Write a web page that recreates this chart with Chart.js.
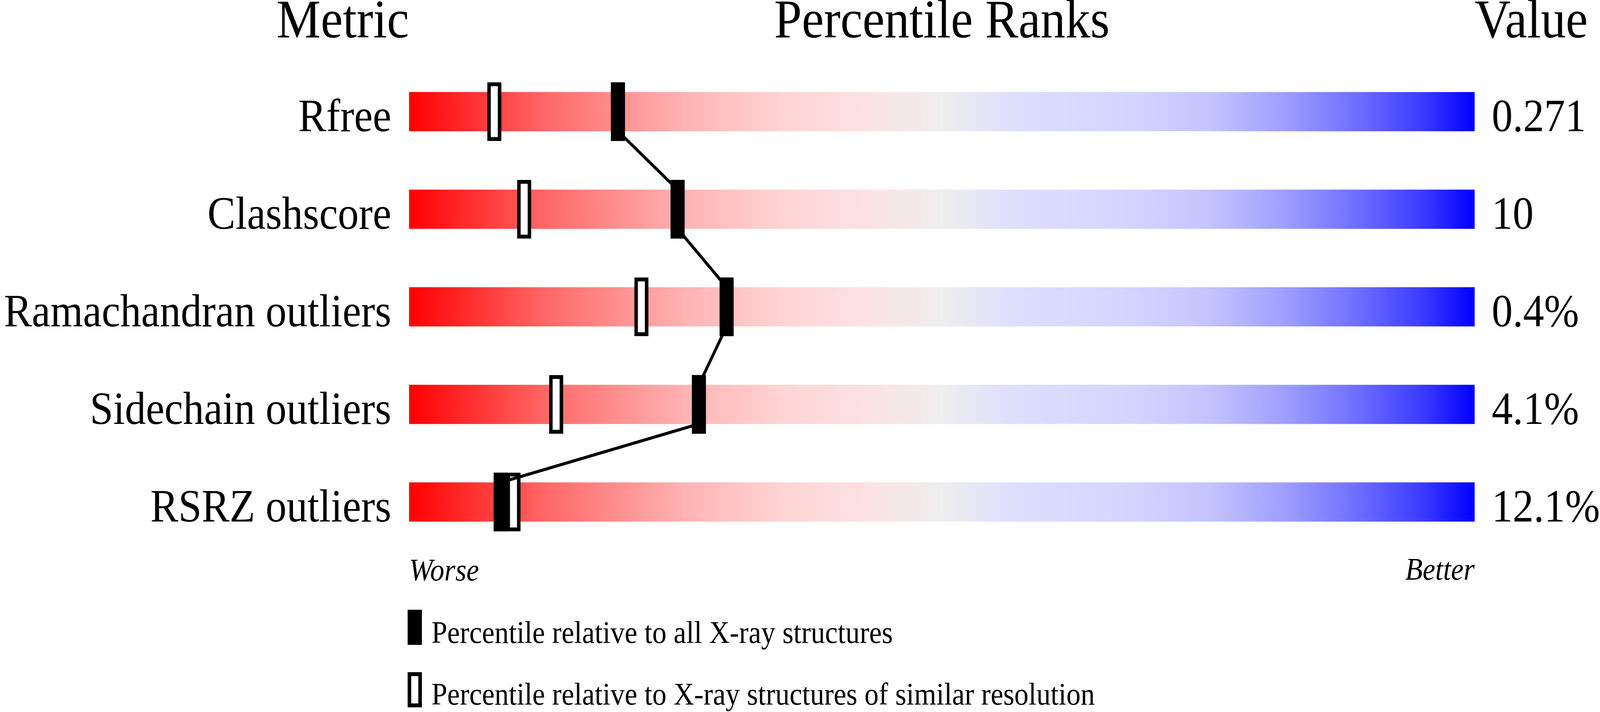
<!DOCTYPE html>
<html>
<head>
<meta charset="utf-8">
<title>Percentile Ranks</title>
<script src="https://cdn.jsdelivr.net/npm/chart.js@4.4.1/dist/chart.umd.min.js"></script>
<style>
  html, body { margin: 0; padding: 0; background: #fff; overflow: hidden; }
  canvas { display: block; }
</style>
</head>
<body>
<canvas id="sliderChart" width="4506" height="1824" style="width:100vw;height:100vh"></canvas>
<script>
// data
const metrics = ['Rfree', 'Clashscore', 'Ramachandran outliers', 'Sidechain outliers', 'RSRZ outliers'];
const metricValues = ['0.271', '10', '0.4%', '4.1%', '12.1%'];
const pctAll = [19.6, 25.2, 29.8, 27.2, 8.6];      // relative to all X-ray structures
const pctSimilar = [8.0, 10.8, 21.8, 13.8, 9.8];   // relative to similar resolution
const legendLabels = [
    'Percentile relative to all X-ray structures',
    'Percentile relative to X-ray structures of similar resolution'
];

// styling
const FONT = '"Liberation Serif", "Times New Roman", serif';
const BAR_PX = 100;
const MARK_PX = 150;
const ROW_PX = 250;
const MARK_HALF = 0.65;            // marker half width in percentile units (~20px)
const BAR_HALF = BAR_PX / 2 / ROW_PX;

const gradientStops = [
    [0.00, 'rgb(255,0,0)'],
    [0.13, 'rgb(255,105,105)'],
    [0.26, 'rgb(255,180,180)'],
    [0.35, 'rgb(255,212,212)'],
    [0.43, 'rgb(252,226,226)'],
    [0.50, 'rgb(238,238,238)'],
    [0.57, 'rgb(222,222,255)'],
    [0.68, 'rgb(212,212,255)'],
    [0.75, 'rgb(196,196,255)'],
    [0.82, 'rgb(160,160,255)'],
    [0.89, 'rgb(110,110,255)'],
    [0.95, 'rgb(60,60,255)'],
    [1.00, 'rgb(0,0,255)']
];

let cachedGradient = null;
function sliderGradient(ctx) {
    const area = ctx.chart.chartArea;
    if (!area) return null;
    if (!cachedGradient) {
        const g = ctx.chart.ctx.createLinearGradient(area.left, 0, area.right, 0);
        gradientStops.forEach(([o, c]) => g.addColorStop(o, c));
        cachedGradient = g;
    }
    return cachedGradient;
}

// line through the filled markers: leaves each bar at its bottom, enters the next at its top
const linePoints = [];
pctAll.forEach((p, i) => {
    linePoints.push({ x: p, y: i - BAR_HALF });
    linePoints.push({ x: p, y: i + BAR_HALF });
});

const textPlugin = {
    id: 'sliderText',
    afterDraw(chart) {
        const { ctx, chartArea } = chart;
        const xs = chart.scales.x;
        const ys = chart.scales.y;
        ctx.save();
        ctx.fillStyle = '#000';
        ctx.textBaseline = 'alphabetic';

        // column headers
        ctx.font = '140px ' + FONT;
        ctx.textAlign = 'right';
        ctx.fillText('Metric', chartArea.left, 96);
        ctx.textAlign = 'center';
        ctx.fillText('Percentile Ranks', xs.getPixelForValue(50), 96);
        ctx.textAlign = 'left';
        ctx.fillText('Value', chartArea.right, 96);

        // row labels and values, baseline on the bar bottom
        ctx.font = '118px ' + FONT;
        metrics.forEach((m, i) => {
            const base = ys.getPixelForValue(i) + BAR_PX / 2;
            ctx.textAlign = 'right';
            ctx.fillText(m, chartArea.left - 50, base);
            ctx.textAlign = 'left';
            ctx.fillText(metricValues[i], chartArea.right + 48, base);
        });

        // ends of the scale
        ctx.font = 'italic 80px ' + FONT;
        ctx.textAlign = 'left';
        ctx.fillText('Worse', chartArea.left, chartArea.bottom + 76);
        ctx.textAlign = 'right';
        ctx.fillText('Better', chartArea.right, chartArea.bottom + 74);

        // legend
        const lx = chartArea.left - 4;
        const rows = [chartArea.bottom + 151, chartArea.bottom + 311];
        rows.forEach((top, k) => {
            ctx.fillStyle = '#000';
            ctx.fillRect(lx, top, 40, 90);
            if (k === 1) {
                ctx.fillStyle = '#fff';
                ctx.fillRect(lx + 10, top + 10, 20, 70);
            }
            ctx.fillStyle = '#000';
            ctx.font = '80px ' + FONT;
            ctx.textAlign = 'left';
            ctx.fillText(legendLabels[k], lx + 67, top + 85 - (k === 0 ? 0 : 2));
        });
        ctx.restore();
    }
};

new Chart(document.getElementById('sliderChart'), {
    type: 'bar',
    data: {
        labels: metrics,
        datasets: [
            {
                type: 'line',
                label: 'link',
                data: linePoints,
                xAxisID: 'x',
                yAxisID: 'y2',
                borderColor: '#000',
                borderWidth: 8,
                borderCapStyle: 'butt',
                pointRadius: 0,
                fill: false,
                tension: 0,
                order: 1
            },
            {
                label: 'similar',
                data: pctSimilar.map(p => [p - MARK_HALF, p + MARK_HALF]),
                backgroundColor: '#fff',
                borderColor: '#000',
                borderWidth: 10,
                borderSkipped: false,
                barThickness: MARK_PX,
                grouped: false,
                order: 2
            },
            {
                label: 'all',
                data: pctAll.map(p => [p - MARK_HALF, p + MARK_HALF]),
                backgroundColor: '#000',
                borderWidth: 0,
                barThickness: MARK_PX,
                grouped: false,
                order: 3
            },
            {
                label: 'scale',
                data: metrics.map(() => [0, 100]),
                backgroundColor: sliderGradient,
                borderWidth: 0,
                barThickness: BAR_PX,
                grouped: false,
                order: 4
            }
        ]
    },
    options: {
        indexAxis: 'y',
        responsive: false,
        devicePixelRatio: 1,
        animation: false,
        events: [],
        layout: { padding: { left: 1152, right: 353, top: 161, bottom: 413 } },
        plugins: {
            legend: { display: false },
            tooltip: { enabled: false },
            title: { display: false }
        },
        scales: {
            x: { type: 'linear', min: 0, max: 100, display: false },
            y: { type: 'category', display: false, offset: true },
            y2: {
                type: 'linear', axis: 'y', min: -0.5, max: 4.5, reverse: true,
                offset: false, grid: { offset: false }, display: false
            }
        }
    },
    plugins: [textPlugin]
});
</script>
</body>
</html>
